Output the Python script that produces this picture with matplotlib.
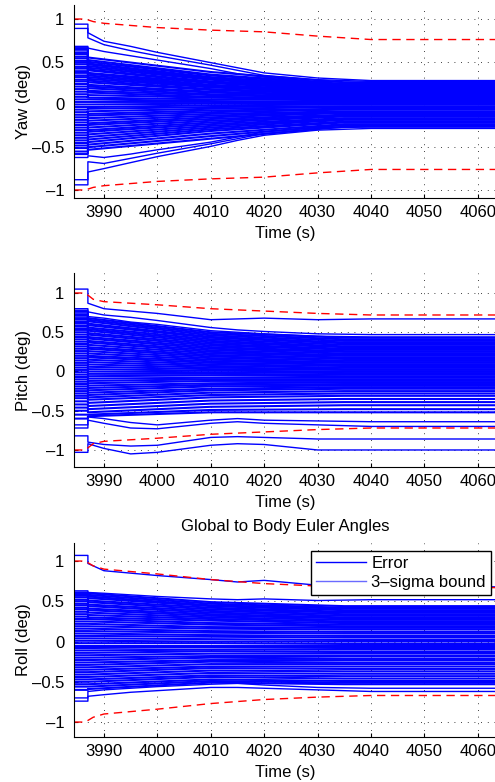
import matplotlib
matplotlib.use('Agg')
from matplotlib import pyplot as plt
from matplotlib.lines import Line2D

plt.rcParams['font.family'] = ['Liberation Sans', 'DejaVu Sans']
plt.rcParams['font.size'] = 12

T_START = 3984.4
T_END = 4063.4

# knot times: outer lines, core lines, sigma bounds
OUTER_T = [3987, 3990, 3995, 4000, 4010, 4015, 4020, 4030, 4040]
CORE_T = [3987, 4010, 4035]
SIGMA_T = [3984.4, 3986.5, 3988, 3990, 4000, 4010, 4020, 4030, 4040, 4064]

x_ticks = [3990, 4000, 4010, 4020, 4030, 4040, 4050, 4060]
y_ticks = [-1, -0.5, 0, 0.5, 1]
y_ticklabels = ['\u20131', '\u20130.5', '0', '0.5', '1']

# ---- yaw ----
yaw_sigma = [1.0, 1.0, 0.97, 0.95, 0.90, 0.87, 0.85, 0.80, 0.76, 0.76]
# first value = level before the jump at 3987, then values at OUTER_T
yaw_outer = [
    [0.94, 0.84, 0.74, 0.68, 0.61, 0.49, 0.43, 0.37, 0.31, 0.28],
    [0.89, 0.78, 0.70, 0.63, 0.57, 0.46, 0.40, 0.34, 0.29, 0.27],
    [0.68, 0.66, 0.62, 0.57, 0.52, 0.42, 0.36, 0.32, 0.27, 0.25],
    [-0.94, -0.79, -0.75, -0.68, -0.61, -0.49, -0.42, -0.36, -0.30, -0.28],
    [-0.88, -0.67, -0.69, -0.63, -0.57, -0.46, -0.40, -0.34, -0.28, -0.26],
    [-0.62, -0.60, -0.62, -0.58, -0.53, -0.44, -0.38, -0.32, -0.27, -0.25],
]
# first value = level before 3987, then values at CORE_T
yaw_core = [
    [0.66, 0.55, 0.38, 0.26], [0.64, 0.52, 0.35, 0.24], [0.61, 0.50, 0.34, 0.23],
    [0.59, 0.48, 0.32, 0.22], [0.56, 0.47, 0.31, 0.21], [0.54, 0.45, 0.30, 0.20],
    [0.51, 0.43, 0.29, 0.19], [0.49, 0.41, 0.27, 0.19], [0.47, 0.40, 0.26, 0.18],
    [0.44, 0.37, 0.25, 0.17], [0.42, 0.36, 0.23, 0.16], [0.39, 0.34, 0.22, 0.15],
    [0.37, 0.32, 0.21, 0.14], [0.34, 0.30, 0.20, 0.14], [0.32, 0.28, 0.18, 0.13],
    [0.29, 0.26, 0.17, 0.12], [0.27, 0.23, 0.15, 0.11], [0.24, 0.21, 0.14, 0.10],
    [0.21, 0.19, 0.12, 0.09], [0.18, 0.16, 0.11, 0.08], [0.15, 0.14, 0.09, 0.07],
    [0.12, 0.11, 0.08, 0.06], [0.09, 0.08, 0.06, 0.05], [0.06, 0.06, 0.04, 0.03],
    [0.03, 0.03, 0.03, 0.02], [0.00, 0.00, 0.01, 0.01], [-0.03, -0.03, -0.01, 0.00],
    [-0.06, -0.05, -0.03, -0.02], [-0.09, -0.08, -0.05, -0.03], [-0.12, -0.11, -0.07, -0.05],
    [-0.15, -0.13, -0.09, -0.06], [-0.18, -0.16, -0.11, -0.08], [-0.21, -0.19, -0.13, -0.09],
    [-0.24, -0.22, -0.15, -0.10], [-0.27, -0.24, -0.17, -0.12], [-0.30, -0.27, -0.19, -0.13],
    [-0.33, -0.30, -0.21, -0.14], [-0.36, -0.32, -0.23, -0.16], [-0.39, -0.35, -0.25, -0.17],
    [-0.42, -0.38, -0.27, -0.18], [-0.45, -0.41, -0.29, -0.20], [-0.48, -0.44, -0.31, -0.21],
    [-0.51, -0.47, -0.34, -0.23], [-0.55, -0.50, -0.37, -0.24], [-0.58, -0.53, -0.40, -0.26],
]

# ---- pitch ----
pitch_sigma = [1.0, 1.0, 0.92, 0.89, 0.85, 0.80, 0.77, 0.74, 0.72, 0.72]
pitch_outer = [
    [1.05, 0.87, 0.80, 0.77, 0.74, 0.66, 0.67, 0.68, 0.66, 0.67],
    [0.80, 0.76, 0.72, 0.69, 0.65, 0.56, 0.53, 0.51, 0.48, 0.47],
    [0.78, 0.70, 0.68, 0.63, 0.60, 0.52, 0.50, 0.48, 0.45, 0.44],
    [-1.03, -0.92, -0.98, -1.05, -1.03, -0.94, -0.92, -0.93, -1.00, -1.00],
    [-0.82, -0.90, -0.93, -0.95, -0.94, -0.84, -0.83, -0.84, -0.86, -0.86],
    [-0.72, -0.62, -0.66, -0.72, -0.73, -0.66, -0.64, -0.66, -0.68, -0.70],
    [-0.68, -0.58, -0.60, -0.65, -0.68, -0.62, -0.60, -0.62, -0.63, -0.64],
]
pitch_core = [
    [0.76, 0.68, 0.50, 0.43], [0.73, 0.66, 0.48, 0.41], [0.71, 0.64, 0.46, 0.39],
    [0.68, 0.61, 0.44, 0.37], [0.66, 0.59, 0.43, 0.36], [0.63, 0.56, 0.41, 0.34],
    [0.61, 0.54, 0.39, 0.32], [0.58, 0.52, 0.37, 0.31], [0.55, 0.49, 0.35, 0.29],
    [0.53, 0.47, 0.33, 0.28], [0.50, 0.44, 0.31, 0.26], [0.47, 0.42, 0.29, 0.25],
    [0.44, 0.39, 0.27, 0.23], [0.41, 0.37, 0.25, 0.21], [0.38, 0.34, 0.23, 0.20],
    [0.35, 0.31, 0.21, 0.18], [0.32, 0.29, 0.19, 0.16], [0.29, 0.26, 0.17, 0.14],
    [0.26, 0.23, 0.15, 0.12], [0.23, 0.20, 0.13, 0.11], [0.20, 0.18, 0.11, 0.09],
    [0.17, 0.15, 0.09, 0.07], [0.14, 0.12, 0.07, 0.05], [0.11, 0.09, 0.05, 0.03],
    [0.08, 0.06, 0.03, 0.02], [0.05, 0.03, 0.01, 0.00], [0.02, 0.00, -0.01, -0.02],
    [-0.01, -0.03, -0.03, -0.04], [-0.04, -0.06, -0.05, -0.06], [-0.07, -0.09, -0.08, -0.08],
    [-0.10, -0.12, -0.10, -0.10], [-0.13, -0.15, -0.12, -0.12], [-0.16, -0.18, -0.15, -0.14],
    [-0.19, -0.21, -0.17, -0.16], [-0.22, -0.24, -0.19, -0.18], [-0.25, -0.27, -0.22, -0.20],
    [-0.28, -0.30, -0.24, -0.22], [-0.31, -0.33, -0.27, -0.25], [-0.34, -0.36, -0.30, -0.28],
    [-0.38, -0.40, -0.33, -0.31], [-0.42, -0.44, -0.37, -0.35], [-0.46, -0.48, -0.41, -0.39],
    [-0.50, -0.52, -0.45, -0.43], [-0.55, -0.55, -0.49, -0.48], [-0.60, -0.57, -0.52, -0.52],
]

# ---- roll ----
roll_sigma = [1.0, 1.0, 0.94, 0.90, 0.84, 0.77, 0.72, 0.69, 0.67, 0.67]
roll_outer = [
    [1.07, 0.97, 0.88, 0.85, 0.82, 0.77, 0.74, 0.76, 0.70, 0.68],
    [0.63, 0.61, 0.60, 0.58, 0.56, 0.53, 0.52, 0.53, 0.51, 0.52],
    [-0.74, -0.68, -0.66, -0.63, -0.61, -0.57, -0.57, -0.58, -0.60, -0.62],
    [-0.70, -0.62, -0.60, -0.58, -0.56, -0.53, -0.52, -0.54, -0.57, -0.58],
]
roll_core = [
    [0.61, 0.60, 0.49, 0.44], [0.59, 0.58, 0.47, 0.42], [0.57, 0.56, 0.45, 0.41],
    [0.55, 0.54, 0.44, 0.39], [0.52, 0.51, 0.42, 0.37], [0.50, 0.49, 0.40, 0.36],
    [0.47, 0.46, 0.38, 0.34], [0.45, 0.44, 0.36, 0.32], [0.42, 0.41, 0.34, 0.30],
    [0.40, 0.39, 0.32, 0.29], [0.37, 0.36, 0.30, 0.27], [0.34, 0.33, 0.28, 0.25],
    [0.31, 0.30, 0.26, 0.23], [0.28, 0.28, 0.23, 0.21], [0.25, 0.25, 0.21, 0.19],
    [0.22, 0.22, 0.18, 0.17], [0.19, 0.19, 0.16, 0.15], [0.16, 0.16, 0.13, 0.12],
    [0.13, 0.13, 0.11, 0.10], [0.10, 0.10, 0.08, 0.07], [0.07, 0.07, 0.06, 0.05],
    [0.04, 0.04, 0.03, 0.02], [0.01, 0.01, 0.00, 0.00], [-0.02, -0.02, -0.02, -0.03],
    [-0.05, -0.05, -0.05, -0.05], [-0.08, -0.08, -0.07, -0.08], [-0.11, -0.11, -0.10, -0.10],
    [-0.14, -0.14, -0.12, -0.13], [-0.17, -0.17, -0.15, -0.15], [-0.20, -0.20, -0.18, -0.18],
    [-0.23, -0.23, -0.20, -0.21], [-0.26, -0.26, -0.23, -0.23], [-0.29, -0.29, -0.25, -0.26],
    [-0.32, -0.32, -0.28, -0.28], [-0.35, -0.35, -0.31, -0.31], [-0.38, -0.38, -0.33, -0.34],
    [-0.41, -0.41, -0.36, -0.37], [-0.44, -0.44, -0.39, -0.40], [-0.47, -0.47, -0.42, -0.43],
    [-0.50, -0.50, -0.44, -0.46], [-0.53, -0.53, -0.47, -0.49], [-0.56, -0.56, -0.49, -0.51],
    [-0.60, -0.59, -0.51, -0.53],
]

LW = 1.5
BLUE = '#0000ff'


def draw_line(ax, knots, row, lw):
    x = [T_START, knots[0]] + knots + [T_END]
    y = [row[0], row[0]] + row[1:] + [row[-1]]
    ax.plot(x, y, color=BLUE, lw=lw)


def panel(rect, name, core, outer, sigma, ylim):
    ax = fig.add_axes(rect)
    for row in core:
        draw_line(ax, CORE_T, row, LW)
    for row in outer:
        draw_line(ax, OUTER_T, row, 1.0)
    ax.plot(SIGMA_T, sigma, color='r', lw=1.0, dashes=(6, 4))
    ax.plot(SIGMA_T, [-s for s in sigma], color='r', lw=1.0, dashes=(6, 4))
    ax.set_xlim(T_START, T_END)
    ax.set_ylim(*ylim)
    ax.set_xticks(x_ticks)
    ax.set_yticks(y_ticks)
    ax.set_yticklabels(y_ticklabels)
    ax.spines['top'].set_visible(False)
    ax.spines['right'].set_visible(False)
    ax.tick_params(direction='in', length=3, width=0.8)
    ax.tick_params(axis='x', pad=5)
    ax.tick_params(axis='y', pad=7)
    ax.grid(True, color='k', lw=0.6, linestyle=(0, (1, 7)))
    ax.set_xlabel('Time (s)', labelpad=4)
    ax.set_ylabel(name, labelpad=1)
    return ax


fig = plt.figure(figsize=(4.95, 7.82), dpi=100)

panel([0.1495, 0.7468, 0.8525, 0.2468], 'Yaw (deg)', yaw_core, yaw_outer, yaw_sigma, (-1.094, 1.164))
panel([0.1495, 0.4028, 0.8525, 0.2481], 'Pitch (deg)', pitch_core, pitch_outer, pitch_sigma, (-1.217, 1.255))
ax3 = panel([0.1495, 0.0575, 0.8525, 0.2481], 'Roll (deg)', roll_core, roll_outer, roll_sigma, (-1.186, 1.224))
ax3.set_title('Global to Body Euler Angles', fontsize=12, pad=9)

handles = [Line2D([], [], color=BLUE, lw=1.0), Line2D([], [], color='#6a6aff', lw=1.0)]
leg = ax3.legend(handles, ['Error', '3\u2013sigma bound'], loc='upper right',
                 bbox_to_anchor=(0.988, 0.959), fancybox=False, framealpha=1,
                 edgecolor='k', handlelength=3.0, handletextpad=0.35,
                 borderpad=0.3, labelspacing=0.25, borderaxespad=0)
leg.get_frame().set_linewidth(1.0)

fig.savefig('out.png', dpi=100)
